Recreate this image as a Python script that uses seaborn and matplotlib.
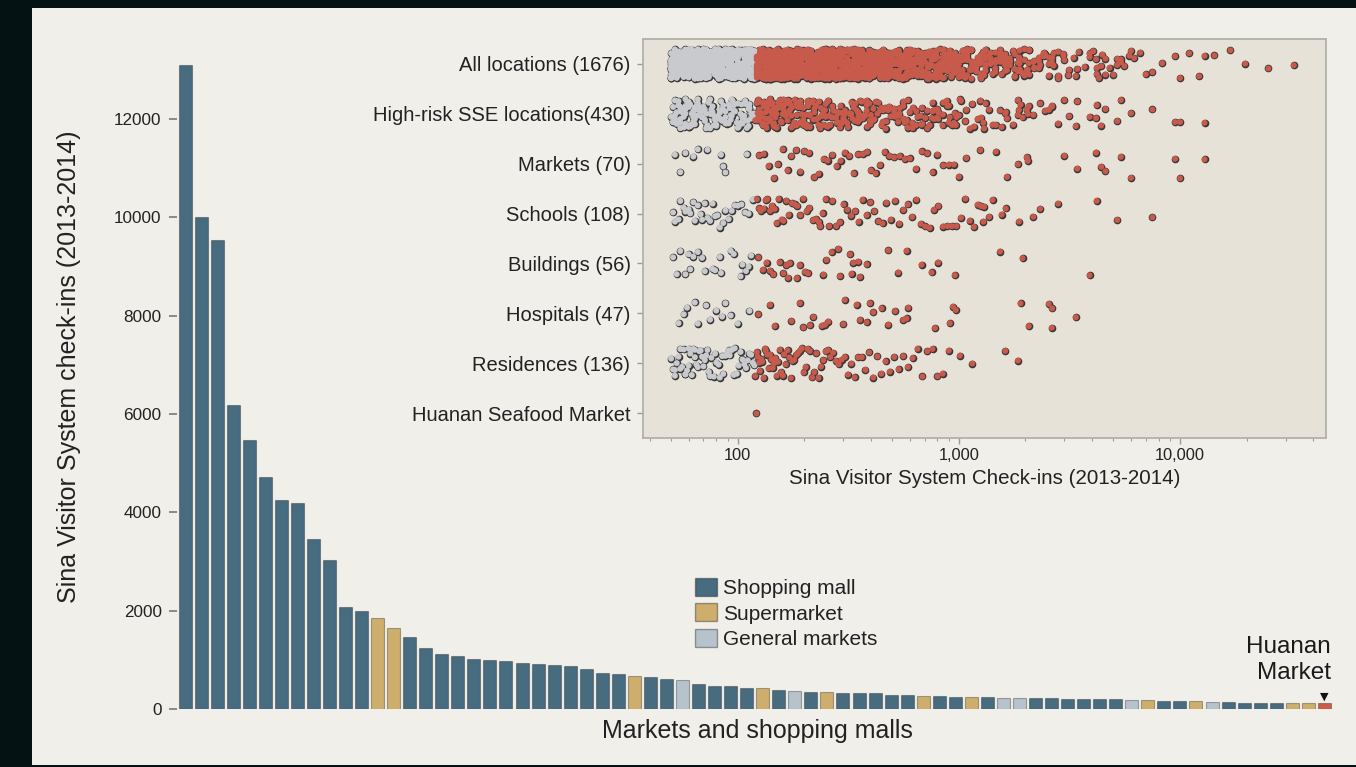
import numpy as np
import pandas as pd
import matplotlib
matplotlib.use('Agg')
import matplotlib.pyplot as plt
import matplotlib.ticker as mticker
from matplotlib.patches import Patch, Rectangle
import seaborn as sns

# ---- bar chart: check-ins of markets / shopping malls (ranked)
bar_checkins = [13100, 10000, 9540, 6190, 5470, 4730, 4260, 4200, 3460, 3030,
                2070, 2000, 1850, 1650, 1470, 1245, 1115, 1075, 1025, 995,
                980, 940, 918, 898, 884, 820, 740, 708, 667, 653,
                606, 598, 504, 476, 464, 435, 429, 388, 368, 354,
                348, 334, 334, 327, 287, 280, 273, 260, 252, 246,
                240, 232, 232, 220, 220, 212, 205, 199, 199, 185,
                179, 165, 165, 159, 151, 138, 130, 130, 124, 118,
                118, 120]
# M = shopping mall, S = supermarket, G = general market, H = Huanan
bar_types = list("MMMMMMMMMMMM" "SS" "MMMMMMMMMMMMMM" "S" "MM" "G" "MMMM" "S" "M" "G"
                 "M" "S" "MMMMM" "S" "MM" "S" "M" "GG" "MMMMMM" "G" "S" "MM" "S" "G"
                 "MMMM" "SS" "H")
type_names = {'M': 'Shopping mall', 'S': 'Supermarket', 'G': 'General markets'}
type_colors = {'M': '#476c80', 'S': '#cdae6c', 'G': '#b6c3cc', 'H': '#cf5b4c'}

# ---- inset: check-ins per location type
inset_labels = ['All locations (1676)', 'High-risk SSE locations(430)', 'Markets (70)',
                'Schools (108)', 'Buildings (56)', 'Hospitals (47)', 'Residences (136)',
                'Huanan Seafood Market']

markets = [52, 55, 58, 63, 66, 73, 84, 86, 88, 110,
           125, 131, 138, 146, 152, 160, 168, 175, 184, 192,
           200, 210, 222, 232, 245, 255, 268, 280, 292, 305,
           320, 335, 350, 368, 385, 400, 420, 440, 462, 485,
           510, 540, 570, 600, 640, 680, 720, 760, 800, 850,
           900, 950, 1000, 1080, 1250, 1470, 1650, 1850, 2030, 2050,
           3000, 3430, 4170, 4400, 4600, 5400, 6000, 9500, 10000, 12900]
schools = [51, 52, 54, 55, 57, 58, 60, 61, 63, 64, 66, 68, 69, 71, 73,
           75, 77, 79, 81, 83, 86, 88, 91, 94, 97, 100, 104, 108, 112, 117,
           122, 125, 127, 131, 134, 136, 140, 143, 147, 150,
           153, 158, 161, 166, 170, 176, 181, 186, 192, 198,
           205, 211, 219, 226, 233, 236, 242, 250, 259, 268, 279,
           290, 301, 313, 326, 340, 352, 367, 383, 398, 415,
           433, 452, 470, 492, 515, 538, 561, 588, 615, 642,
           672, 705, 738, 772, 808, 847, 888, 930, 975, 1022,
           1070, 1120, 1170, 1215, 1260, 1300,
           1290, 1370, 1420, 1560, 1630, 1870, 2170, 2330, 2810, 4200, 5200, 7500]
buildings = [51, 53, 55, 58, 60, 61, 63, 66, 69, 71, 77, 79, 83, 84, 93, 96, 103, 105,
             109, 112, 115,
             124, 130, 135, 140, 145, 155, 161, 166, 169, 172, 185, 191, 201, 208,
             244, 252, 266, 285, 290, 322, 327, 333, 351, 357, 383, 479, 532, 580,
             678, 753, 806, 959, 1535, 1940, 3900]
hospitals = [54, 57, 59, 64, 66, 72, 75, 80, 85, 88, 93, 100, 113,
             124, 140, 147, 175, 191, 198, 212, 220, 240, 248,
             257, 300, 305, 345, 357, 383, 396, 410, 447, 479,
             515, 560, 580, 590, 780, 910, 940, 969,
             1900, 2070, 2550, 2630, 2640, 3380]
residences = [50, 51, 52, 52, 53, 54, 55, 55, 56, 57, 58, 58, 59, 60, 60, 61, 62, 63,
              64, 64, 65, 66, 67, 68, 69, 70, 71, 72, 73, 74, 75, 76, 78, 79, 80, 82,
              83, 85, 86, 88, 89, 91, 92, 94, 96, 97, 99, 101, 103, 105, 107, 109,
              111, 113, 115, 117, 119,
              120, 122, 123, 125, 126, 128, 129, 131, 133, 134, 136, 138, 140, 142,
              144, 146, 148, 150, 152, 155, 157, 160, 162, 165, 168, 171, 174, 177,
              180, 184, 187, 191, 195, 199, 203, 207, 212, 217, 222, 227, 232, 238,
              244, 250, 256, 262, 270, 278, 286, 295, 305, 315, 326, 338, 350, 364,
              378, 393, 410, 428, 446, 466, 487, 510, 534, 560, 588, 618, 650, 684,
              720, 760, 800, 845, 900, 1010, 1150, 1620, 1850]
highrisk_extra = [57, 76, 95, 138, 205, 330, 455, 620, 880, 1320, 1760, 2450, 3150]
huanan = [121]

# other (non high-risk) locations, binned: value and number of locations
other_low_vals = [50, 52, 54, 56, 58, 60, 62, 64, 66, 68, 70, 72, 74, 76, 79, 82, 85,
                  88, 91, 94, 97, 100, 103, 107, 111, 115, 119]
other_low_counts = [13, 14, 15, 15, 14, 15, 16, 14, 15, 15, 14, 15, 15, 14, 15, 16, 14,
                    14, 14, 13, 14, 14, 13, 14, 14, 13, 14]
other_mid_vals = [122, 126, 130, 134, 138, 142, 147, 152, 157, 162, 168, 174, 180, 186,
                  193, 200, 207, 215, 223, 231, 240, 249, 258, 268, 278, 289, 300, 312,
                  324, 337, 350, 364, 378, 393, 408, 424, 441, 458, 476, 495, 515, 535,
                  556, 578, 601, 625, 650, 676, 703, 731, 760, 790, 822, 855, 889, 925,
                  962, 1000]
other_mid_counts = [16, 17, 18, 17, 18, 17, 18, 17, 17, 18, 17, 17, 16, 17, 17, 16, 17, 16, 17, 16,
                    14, 13, 14, 13, 13, 14, 13, 12, 13, 13, 12, 13, 12, 13, 12, 12, 13, 12, 11, 12,
                    10, 9, 10, 9, 9, 8, 9, 8, 8, 8, 7, 7, 7, 6, 6, 6, 5, 5]
other_high_vals = [1040, 1090, 1140, 1200, 1260, 1320, 1390, 1460, 1540, 1620, 1700, 1790,
                   1880, 1980, 2080, 2190, 2300, 2420, 2550, 2680, 2820, 2970, 3130, 3300, 3480]
other_high_counts = [7, 7, 7, 6, 6, 6, 6, 5, 5, 5, 5, 4, 4, 4, 3, 3, 3, 3, 2, 2, 2, 2, 1, 1, 1]
other_far = [3700, 3900, 4050, 4200, 4300, 4450, 4600, 4800, 5000, 5200, 5400, 5600,
             5900, 6200, 6600, 7000, 8300, 11000, 12200, 14300, 16900, 19700, 25100, 32700]

# ---- assemble
assert len(bar_types) == len(bar_checkins)
df_bar = pd.DataFrame({'rank': np.arange(len(bar_checkins)), 'checkins': bar_checkins,
                       'type': bar_types})

high_risk = np.concatenate([markets, schools, buildings, hospitals, residences, highrisk_extra])
all_loc = np.concatenate([high_risk,
                          np.repeat(other_low_vals, other_low_counts),
                          np.repeat(other_mid_vals, other_mid_counts),
                          np.repeat(other_high_vals, other_high_counts),
                          other_far])
inset_values = [all_loc, high_risk, markets, schools, buildings, hospitals, residences, huanan]
df_in = pd.concat([pd.DataFrame({'location': lab, 'checkins': np.asarray(v, dtype=float)})
                   for lab, v in zip(inset_labels, inset_values)], ignore_index=True)
df_in['level'] = np.where(df_in['checkins'] < 120, 'low', 'high')

# ---- style
sns.set_style('white')
plt.rcParams['font.family'] = ['Liberation Sans', 'DejaVu Sans']
W, H = 1356, 767
fig = plt.figure(figsize=(W / 100, H / 100), dpi=100, facecolor='#041214')
fig.patches.append(Rectangle((32 / W, 2 / H), 1, 1 - 10 / H, transform=fig.transFigure,
                             facecolor='#f0efea', edgecolor='none', zorder=-10))

def fx(px):
    return px / W

def fy(py):
    return 1 - py / H

# ---- main bar chart
ax = fig.add_axes([fx(177), fy(709.1), fx(1332.4) - fx(177), fy(57.7) - fy(709.1)])
ax.set_facecolor('none')
sns.barplot(data=df_bar, x='rank', y='checkins', hue='type', palette=type_colors,
            dodge=False, width=0.81, saturation=1, legend=False,
            edgecolor=(0, 0, 0, 0.3), linewidth=0.8, ax=ax)
ax.set_xlim(-0.5, len(bar_checkins) - 0.5)
ax.set_ylim(0, 13250)
ax.set_xticks([])
ax.set_yticks(range(0, 12001, 2000))
ax.tick_params(axis='y', length=6, width=1.4, color='#8a8a8a', labelcolor='#222222',
               labelsize=12.3, pad=5, left=True)
ax.set_xlabel('')
ax.set_ylabel('')
sns.despine(ax=ax, left=True, bottom=True)

hu_idx = bar_types.index('H')
hu_val = bar_checkins[hu_idx]
ax.annotate('▼', xy=(hu_idx, hu_val), xytext=(0, 1), textcoords='offset points',
            ha='center', va='bottom', fontsize=8, family='DejaVu Sans', color='#111111')
ax.annotate('Huanan\nMarket', xy=(hu_idx + 0.42, hu_val), xytext=(0, 14),
            textcoords='offset points', ha='right', va='bottom', fontsize=17.5,
            multialignment='right', color='#1a1a1a')

fig.text(fx(69), fy(367), 'Sina Visitor System check-ins (2013-2014)', rotation=90,
         ha='center', va='center', fontsize=18, color='#222222')
fig.text(fx(757), fy(731), 'Markets and shopping malls', ha='center', va='center',
         fontsize=18, color='#222222')

handles = [Patch(facecolor=type_colors[k], edgecolor=(0, 0, 0, 0.35), linewidth=1)
           for k in ['M', 'S', 'G']]
fig.legend(handles, [type_names[k] for k in ['M', 'S', 'G']], loc='upper left',
           bbox_to_anchor=(fx(695), fy(578)), frameon=False, fontsize=15,
           handlelength=1.05, handleheight=0.95, labelspacing=0.25, handletextpad=0.3,
           borderpad=0, borderaxespad=0, labelcolor='#222222')

# ---- inset strip plot
np.random.seed(3)
axi = fig.add_axes([fx(643), fy(438), fx(1326) - fx(643), fy(39) - fy(438)])
axi.set_facecolor('#e6e2d8')
sns.stripplot(data=df_in, x='checkins', y='location', hue='level', order=inset_labels,
              hue_order=['low', 'high'], palette={'low': '#c9cacd', 'high': '#c85a4c'},
              jitter=0.3, size=4.3, linewidth=0, log_scale=True, legend=False, ax=axi)

# outline layer below, fill layer on top (dense groups merge into outlined blobs)
for coll in list(axi.collections):
    offs = coll.get_offsets()
    fills = coll.get_facecolor()
    sizes = coll.get_sizes()
    coll.set_facecolor('#383838')
    coll.set_edgecolor('#383838')
    coll.set_linewidth(1.2)
    coll.set_zorder(2)
    axi.scatter(offs[:, 0], offs[:, 1], s=sizes, c=fills, linewidths=0, zorder=3)

axi.set_xlim(37.3, 45700)
axi.set_ylim(len(inset_labels) - 0.5, -0.5)
axi.xaxis.set_major_locator(mticker.FixedLocator([100, 1000, 10000]))
axi.xaxis.set_major_formatter(mticker.FixedFormatter(['100', '1,000', '10,000']))
axi.xaxis.set_minor_locator(mticker.LogLocator(base=10, subs=np.arange(2, 10)))
axi.xaxis.set_minor_formatter(mticker.NullFormatter())
axi.tick_params(axis='x', which='major', length=4, width=1, color='#9a9a9a',
                labelsize=11.8, labelcolor='#222222', pad=3, bottom=True)
axi.tick_params(axis='x', which='minor', length=2.5, width=0.8, color='#9a9a9a', bottom=True)
axi.tick_params(axis='y', length=4, width=1, color='#9a9a9a', labelsize=14.5,
                labelcolor='#222222', pad=5, left=True)
axi.set_xlabel('')
axi.set_ylabel('')
for sp in axi.spines.values():
    sp.set_color('#b3b1a9')
    sp.set_linewidth(1.3)
    sp.set_zorder(4)
fig.text(fx(985), fy(478), 'Sina Visitor System Check-ins (2013-2014)', ha='center',
         va='center', fontsize=14.8, color='#222222')

fig.savefig('out.png', dpi=100, facecolor=fig.get_facecolor())
